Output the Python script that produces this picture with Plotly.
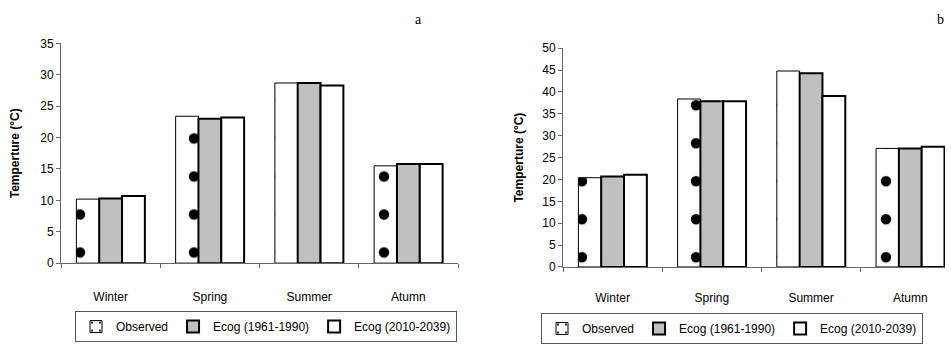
import plotly.graph_objects as go

seasons = ["Winter", "Spring", "Summer", "Atumn"]
series_names = ["Observed", "Ecog (1961-1990)", "Ecog (2010-2039)"]

# Panel a
a_observed = [10.2, 23.4, 28.7, 15.5]
a_ecog_1961 = [10.3, 23.0, 28.7, 15.8]
a_ecog_2010 = [10.7, 23.2, 28.3, 15.8]

# Panel b
b_observed = [20.4, 38.4, 44.8, 27.1]
b_ecog_1961 = [20.7, 37.9, 44.3, 27.1]
b_ecog_2010 = [21.1, 37.9, 39.1, 27.5]

a_ticks = [0, 5, 10, 15, 20, 25, 30, 35]
b_ticks = [0, 5, 10, 15, 20, 25, 30, 35, 40, 45, 50]

FONT = "Liberation Sans, Arial, sans-serif"
W, H = 951, 344

def px_x(p):
    return p / W

def px_y(p):
    return 1 - p / H

styles = [
    dict(color="white", line=dict(color="black", width=1),
         pattern=dict(shape=".", fgcolor="black", bgcolor="white", fgopacity=1,
                      size=38, solidity=0.06)),
    dict(color="#c0c0c0", line=dict(color="black", width=2)),
    dict(color="white", line=dict(color="black", width=2)),
]

fig = go.Figure()
for vals_list, xa, ya, leg in [
    ([a_observed, a_ecog_1961, a_ecog_2010], "x", "y", "legend"),
    ([b_observed, b_ecog_1961, b_ecog_2010], "x2", "y2", "legend2"),
]:
    for name, vals, st in zip(series_names, vals_list, styles):
        fig.add_trace(go.Bar(x=seasons, y=vals, name=name, marker=st,
                             xaxis=xa, yaxis=ya, legend=leg))

axis_common = dict(showgrid=False, zeroline=False, showline=True, linecolor="#666666",
                   linewidth=1, ticks="outside", tickcolor="#666666", ticklen=4,
                   tickfont=dict(family=FONT, size=12, color="black"))

title_font = dict(family=FONT, size=12, color="black")

fig.update_layout(
    width=W, height=H,
    margin=dict(l=0, r=0, t=0, b=0),
    paper_bgcolor="white", plot_bgcolor="white",
    barmode="group", bargap=0.31, bargroupgap=0,
    font=dict(family=FONT, size=12, color="black"),
    xaxis=dict(domain=[px_x(61), px_x(458)], anchor="y", type="category",
               range=[-0.5, 3.5], tickson="boundaries", ticklabelstandoff=22, **axis_common),
    yaxis=dict(domain=[px_y(267), px_y(38)], anchor="x", range=[0, 35],
               tickvals=a_ticks,
               title=dict(text="<b>Temperture (°C)</b>", font=title_font, standoff=18),
               **axis_common),
    xaxis2=dict(domain=[px_x(563), px_x(945)], anchor="y2", type="category",
                range=[-0.5, 3.35], tickson="boundaries", ticklabelstandoff=20, **axis_common),
    yaxis2=dict(domain=[px_y(271), px_y(43)], anchor="x2", range=[0, 50],
                tickvals=b_ticks,
                title=dict(text="<b>Temperture (°C)</b>", font=title_font, standoff=16),
                **axis_common),
    legend=dict(orientation="h", x=px_x(266), y=px_y(317), xanchor="center", yanchor="top",
                bordercolor="#555555", borderwidth=1, font=dict(family=FONT, size=12),
                itemwidth=30, tracegroupgap=0, bgcolor="white"),
    legend2=dict(orientation="h", x=px_x(732), y=px_y(319), xanchor="center", yanchor="top",
                 bordercolor="#555555", borderwidth=1, font=dict(family=FONT, size=12),
                 itemwidth=30, tracegroupgap=0, bgcolor="white"),
    annotations=[
        dict(text="a", x=px_x(418), y=px_y(13), xref="paper", yref="paper",
             xanchor="center", yanchor="middle", showarrow=False,
             font=dict(family="Liberation Serif, Times New Roman, serif", size=14)),
        dict(text="b", x=px_x(940), y=px_y(13), xref="paper", yref="paper",
             xanchor="center", yanchor="middle", showarrow=False,
             font=dict(family="Liberation Serif, Times New Roman, serif", size=14)),
    ],
)

fig.write_html("out.html")
